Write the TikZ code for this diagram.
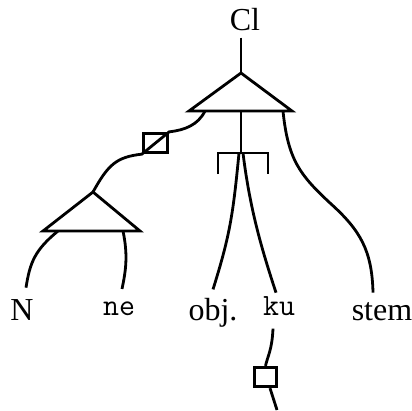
\documentclass[tikz,border=0pt]{standalone}
\usepackage{fontspec}
\setmainfont{Liberation Serif}
\usetikzlibrary{calc}
\begin{document}
\begin{tikzpicture}[x=1pt,y=-1pt, line width=2.8pt, line join=miter,
  lbl/.style={font=\fontsize{32}{38}\selectfont, inner sep=0pt, anchor=base},
  mono/.style={font=\fontsize{31}{36}\selectfont\ttfamily, inner sep=0pt, anchor=base},
  boxnode/.style={draw, inner sep=0pt, line width=2.8pt}]
\useasboundingbox (0,0) rectangle (412,410);
% labels
\node[lbl] (cl) at (245,30) {Cl};
\node[lbl] (N) at (22,320) {N};
\node[mono] (ne) at (119,315) {ne};
\node[lbl] (obj) at (213,320) {obj.};
\node[mono] (ku) at (279,315) {ku};
\node[lbl] (stem) at (382,320) {stem};
% boxes
\node[boxnode, minimum width=24.5pt, minimum height=19.5pt] (box1) at (155.5,143) {};
\node[boxnode, minimum width=22.5pt, minimum height=19.5pt] (box2) at (265.5,377) {};
% top triangle
\coordinate (t1) at (241,73);
\coordinate (t1l) at (189,111);
\coordinate (t1r) at (292,111);
\coordinate (t1m) at (241,111);
\coordinate (t1a) at (205,111);
\coordinate (t1b) at (283,111);
\draw (t1) -- (t1l) -- (t1r) -- cycle;
% lower triangle
\coordinate (t2) at (93,192);
\coordinate (t2l) at (43,231);
\coordinate (t2r) at (140,231);
\coordinate (t2a) at (58,231);
\coordinate (t2b) at (123,231);
\draw (t2) -- (t2l) -- (t2r) -- cycle;
% bracket
\coordinate (br) at (241,153);
\coordinate (brl) at (218,153);
\coordinate (brr) at (268,153);
\draw (218,174) -- (brl) -- (brr) -- (268,174);
% connectors
\draw ($(cl.south -| t1)+(0,6)$) -- (t1);
\draw (t1m) -- (br);
\draw (t1a) .. controls (198,125) and (185,130) .. (box1.north east) -- (box1.south west) .. controls (116,157) and (108,165) .. (t2);
\draw (t1b) .. controls (288,160) and (300,175) .. (330,203) .. controls (360,230) and (372,250) .. ($(stem.north)+(-9,-8)$);
\draw ($(br)+(-2,0)$) .. controls (233,215) and (230,235) .. ($(obj.north)+(0,-7)$);
\draw ($(br)+(2,0)$) .. controls (250,210) and (262,250) .. ($(ku.north)+(-3,-2)$);
\draw (t2a) .. controls (35,250) and (30,262) .. ($(N.north)+(4,-10)$);
\draw (t2b) .. controls (128,255) and (126,270) .. ($(ne.north)+(3,-11)$);
\draw ($(ku.south)+(-6,12)$) .. controls (272,350) and (268,355) .. (box2.north);
\coordinate (kuend) at (277,410);
\draw ($(box2.south)+(4.5,0)$) -- (kuend);
\end{tikzpicture}
\end{document}
